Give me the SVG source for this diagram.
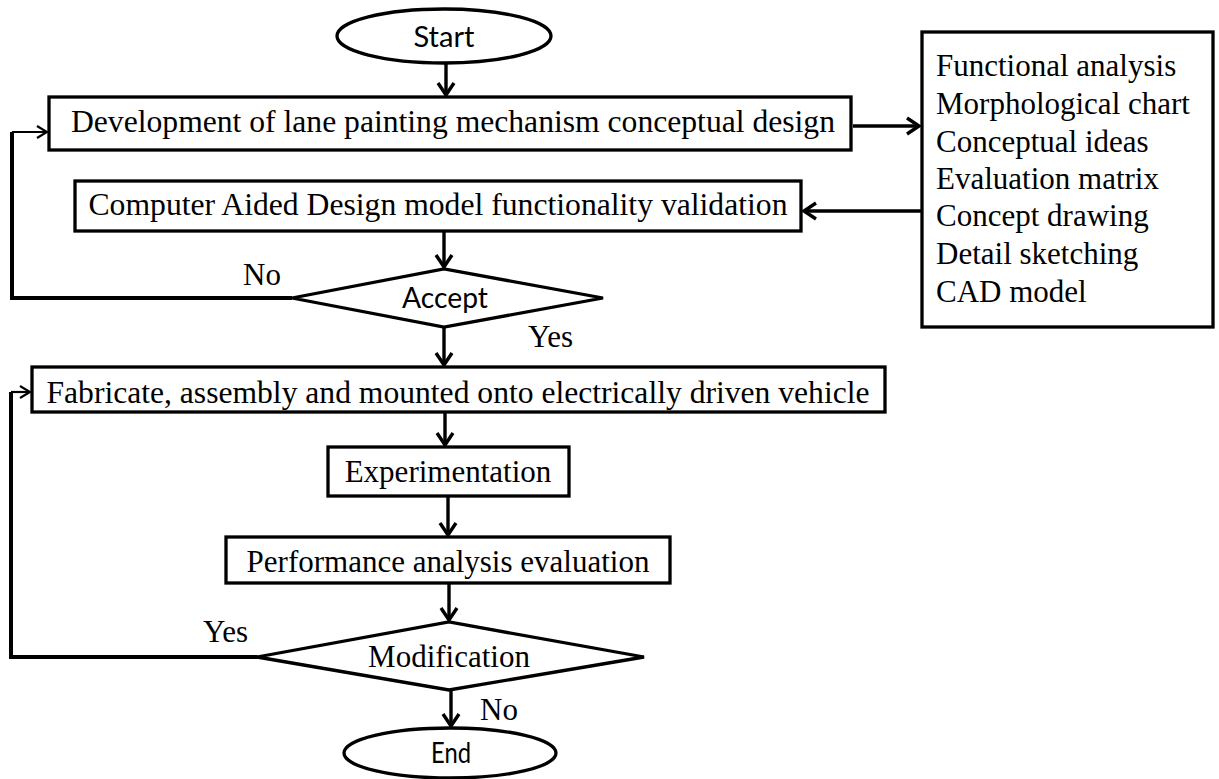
<svg xmlns="http://www.w3.org/2000/svg" width="1219" height="779" viewBox="0 0 1219 779">
<style>
.box{fill:#fff;stroke:#000;stroke-width:3.3}
.serif{font-family:"Liberation Serif","Times New Roman",serif;font-size:31px;fill:#000}
.sans{font-family:Lato,"Liberation Sans",sans-serif;font-size:29px;fill:#000}
.conn{fill:none;stroke:#000;stroke-width:3.4}
.loop{fill:none;stroke:#000;stroke-width:4}
.thin{fill:none;stroke:#000;stroke-width:2.2}
</style>
<defs>
<marker id="ah" viewBox="-16 -11 18 22" refX="0" refY="0" markerWidth="18" markerHeight="22" orient="auto" markerUnits="userSpaceOnUse">
<path d="M-12,-8 L0,0 L-12,8" fill="none" stroke="#000" stroke-width="3.4"/>
</marker>
<marker id="ahThin" viewBox="-14 -9 16 18" refX="0" refY="0" markerWidth="16" markerHeight="18" orient="auto" markerUnits="userSpaceOnUse">
<path d="M-10,-6 L0,0 L-10,6" fill="none" stroke="#000" stroke-width="2.2"/>
</marker>
</defs>
<g id="start">
<ellipse class="box" cx="444" cy="36" rx="107" ry="27"/>
<text class="sans" x="444" y="47" text-anchor="middle" textLength="61" lengthAdjust="spacingAndGlyphs">Start</text>
</g>
<g id="concept">
<rect class="box" x="49" y="97" width="802" height="53"/>
<text class="serif" x="453" y="132" text-anchor="middle" textLength="764" lengthAdjust="spacingAndGlyphs">Development of lane painting mechanism conceptual design</text>
</g>
<g id="methods">
<rect class="box" x="922" y="32" width="291" height="295"/>
<text class="serif" x="936" y="76">Functional analysis</text>
<text class="serif" x="936" y="114">Morphological chart</text>
<text class="serif" x="936" y="152">Conceptual ideas</text>
<text class="serif" x="936" y="189">Evaluation matrix</text>
<text class="serif" x="936" y="226">Concept drawing</text>
<text class="serif" x="936" y="264">Detail sketching</text>
<text class="serif" x="936" y="302">CAD model</text>
</g>
<g id="cad">
<rect class="box" x="75" y="181" width="726" height="50"/>
<text class="serif" x="438" y="215" text-anchor="middle" textLength="699" lengthAdjust="spacingAndGlyphs">Computer Aided Design model functionality validation</text>
</g>
<g id="accept">
<polygon class="box" points="292,298 444,269 603,298 444,327"/>
<text class="sans" x="445" y="308" text-anchor="middle" textLength="86" lengthAdjust="spacingAndGlyphs">Accept</text>
</g>
<g id="fabricate">
<rect class="box" x="32" y="367" width="853" height="45"/>
<text class="serif" x="458" y="403" text-anchor="middle" textLength="823" lengthAdjust="spacingAndGlyphs">Fabricate, assembly and mounted onto electrically driven vehicle</text>
</g>
<g id="experimentation">
<rect class="box" x="328" y="447" width="241" height="49"/>
<text class="serif" x="448" y="482" text-anchor="middle">Experimentation</text>
</g>
<g id="performance">
<rect class="box" x="226" y="537" width="444" height="46"/>
<text class="serif" x="448" y="572" text-anchor="middle">Performance analysis evaluation</text>
</g>
<g id="modification">
<polygon class="box" points="257,657 449,622 644,657 449,690"/>
<text class="serif" x="449" y="667" text-anchor="middle">Modification</text>
</g>
<g id="end">
<ellipse class="box" cx="450" cy="753" rx="106" ry="25"/>
<text class="sans" x="451" y="763" text-anchor="middle" textLength="40" lengthAdjust="spacingAndGlyphs">End</text>
</g>
<g id="connectors">
<line class="conn" x1="446" y1="63" x2="446" y2="95" marker-end="url(#ah)"/>
<line class="conn" x1="853" y1="126" x2="919" y2="126" marker-end="url(#ah)"/>
<line class="conn" x1="922" y1="211" x2="804" y2="211" marker-end="url(#ah)"/>
<line class="conn" x1="444" y1="232" x2="444" y2="267" marker-end="url(#ah)"/>
<line class="conn" x1="444" y1="328" x2="444" y2="365" marker-end="url(#ah)"/>
<path class="loop" d="M292,298 H12 V132"/>
<line class="thin" x1="12" y1="132" x2="47" y2="132" marker-end="url(#ahThin)"/>
<line class="conn" x1="445" y1="413" x2="445" y2="445" marker-end="url(#ah)"/>
<line class="conn" x1="448" y1="497" x2="448" y2="535" marker-end="url(#ah)"/>
<line class="conn" x1="449" y1="584" x2="449" y2="620" marker-end="url(#ah)"/>
<line class="conn" x1="451" y1="691" x2="451" y2="726" marker-end="url(#ah)"/>
<path class="loop" d="M257,657 H11 V392"/>
<line class="thin" x1="11" y1="392" x2="30" y2="392" marker-end="url(#ahThin)"/>
<text class="serif" x="243" y="285">No</text>
<text class="serif" x="528" y="347">Yes</text>
<text class="serif" x="203" y="642">Yes</text>
<text class="serif" x="480" y="720">No</text>
</g>
</svg>
